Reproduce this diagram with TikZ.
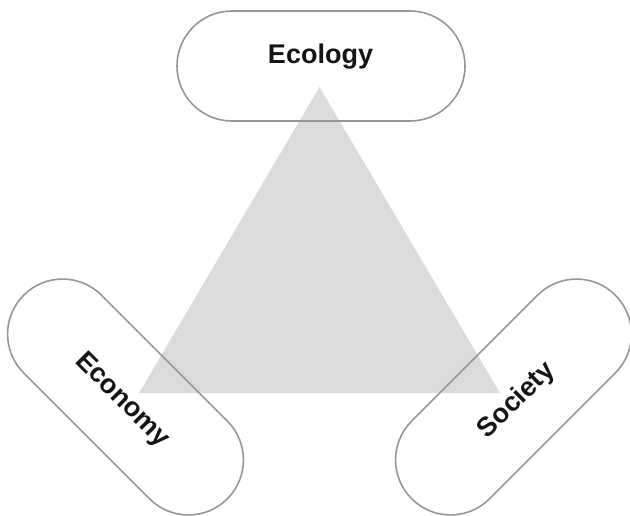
\documentclass[tikz,border=0pt]{standalone}
\usepackage{fontspec}
\setmainfont{Liberation Sans}
\usepackage{tikz}
\definecolor{trigray}{RGB}{218,219,221}
\definecolor{rimgray}{RGB}{150,150,150}
\definecolor{inkblack}{RGB}{20,20,20}

\begin{document}
\begin{tikzpicture}[x=1pt, y=1pt]
        \tikzstyle{every node} = [font=\bfseries\fontsize{27}{31}\selectfont, text=inkblack]
        \tikzstyle{pill}  = [draw=rimgray, line width=1.6pt, rounded corners=55pt, inner sep=0pt, minimum width=288pt, minimum height=110pt]
        \tikzstyle{lbl}   = [inner sep=0pt]

        \useasboundingbox (0,0) rectangle (630,515);

        \coordinate (top)   at (319.5,428);
        \coordinate (left)  at (139,122);
        \coordinate (right) at (500,122);
        \fill[trigray] (top) -- (left) -- (right) -- cycle;

        \node[pill] (ecol) at (321,449) {};
        \node[pill, rotate=-45] (econ) at (125.5,118) {};
        \node[pill, rotate=45]  (soc)  at (513.5,118) {};

        \node[lbl] (ecoltxt) at (320.5,458) {Ecology};
        \node[lbl, rotate=-45] (econtxt) at (122,114.5) {Economy};
        \node[lbl, rotate=45]  (soctxt)  at (517,114.5) {Society};
    \end{tikzpicture}
\end{document}
